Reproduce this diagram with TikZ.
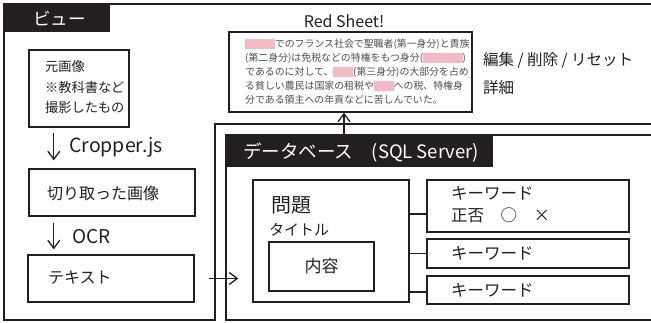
\documentclass[tikz,border=0pt]{standalone}
\usepackage{fontspec}
\setmainfont{Noto Sans CJK JP}
\usetikzlibrary{arrows.meta,calc}
\definecolor{ink}{HTML}{231F20}
\definecolor{sheetpink}{HTML}{F6B8C3}
\definecolor{bodygray}{HTML}{4D4D4D}
\newcommand\fs[2]{\fontsize{#1}{#2}\selectfont}
% pink strip that hides a word on the red sheet
\newcommand\hideword[1]{{\color{sheetpink}\rule[-0.13em]{#1em}{1.02em}}}

\begin{document}
\begin{tikzpicture}[x=1pt,y=-1pt,
  frameline/.style={draw=ink,line width=1.6pt},
  box/.style={draw=ink,line width=1.4pt,rectangle,inner sep=0pt},
  conn/.style={draw=ink,line width=1.3pt},
  arr/.style={draw=ink,line width=1.3pt,-{Straight Barb[length=8pt,width=12pt,line width=1.3pt]}},
  txt/.style={text=ink,inner sep=0pt,anchor=west},
  tab/.style={fill=ink,draw=none,rectangle,inner sep=0pt},
  tabtext/.style={text=white,inner sep=0pt,anchor=west}
]
\useasboundingbox (0,0) rectangle (651,322);

% outer frames: the view (L-shaped) and the database
\draw[frameline] (656,124) -- (215,124) -- (215,320) -- (4,320) -- (4,4) -- (656,4);
\draw[frameline] (656,135) -- (226,135) -- (226,320) -- (656,320);

% frame titles
\node[tab,minimum width=106,minimum height=28] (viewtab) at (57,18) {};
\node[tabtext,font=\fs{17.5}{20}] (viewlabel) at (33,18) {ビュー};
\node[tab,minimum width=267,minimum height=32] (dbtab) at (359.5,151) {};
\node[tabtext,font=\fs{18.5}{22}] (dblabel) at (243,152) {データベース　(SQL Server)};

% view column
\node[box,minimum width=100,minimum height=77] (orig) at (79,88.5) {};
\node[txt,align=left,font=\fs{13.2}{20}] (origtext) at (45,87) {元画像\\※教科書など\\撮影したもの};
\node[box,minimum width=166,minimum height=47] (crop) at (112,192.5) {};
\node[txt,font=\fs{16}{18}] (croptext) at (47,193) {切り取った画像};
\node[box,minimum width=166,minimum height=47] (textbox) at (111,278.5) {};
\node[txt,font=\fs{16}{18}] (textlabel) at (48,278) {テキスト};

\draw[arr] ($(orig.south west)+(25.5,5)$) -- ($(crop.north west)+(25.5,-8)$);
\node[txt,font=\fs{19.5}{22}] (cropper) at (69,147) {Cropper.js};
\draw[arr] ($(crop.south west)+(25.5,6)$) -- ($(textbox.north west)+(26.5,-5)$);
\node[txt,font=\fs{19}{22}] (ocr) at (72,237) {OCR};

% red sheet preview
\node[inner sep=0pt,text=ink,font=\fs{16}{18}] (rstitle) at (344,21) {Red Sheet!};
\node[box,minimum width=243,minimum height=80] (redsheet) at (350.5,72) {};
\node[txt,align=left,text=bodygray,font=\fs{9.9}{14}] (rsbody) at (245,72)
  {\hideword{3}でのフランス社会で聖職者(第一身分)と貴族\\
   (第二身分)は免税などの特権をもつ身分(\hideword{4})\\
   であるのに対して、\hideword{2}(第三身分)の大部分を占め\\
   る貧しい農民は国家の租税や\hideword{2}への税、特権身\\
   分である領主への年貢などに苦しんでいた。};
\node[txt,font=\fs{15.5}{18}] (edit) at (483,60) {編集 / 削除 / リセット};
\node[txt,font=\fs{15.5}{18}] (detail) at (483,88) {詳細};

% database content
\node[box,minimum width=156,minimum height=122] (mondai) at (331,241) {};
\node[txt,font=\fs{20}{22}] (mondaititle) at (271,205) {問題};
\node[txt,font=\fs{15}{18}] (title) at (269,230) {タイトル};
\node[box,minimum width=105,minimum height=49] (naiyo) at (321.5,266.5) {};
\node[inner sep=0pt,text=ink,font=\fs{17}{20}] (naiyotext) at (naiyo.center) {内容};

\node[box,minimum width=202,minimum height=52] (kw1) at (528,206) {};
\node[txt,font=\fs{16.5}{18}] (kw1a) at (451,193) {キーワード};
\node[txt,font=\fs{16.5}{18}] (kw1b) at (451,215) {正否　○　×};
\node[box,minimum width=202,minimum height=29] (kw2) at (528,253.5) {};
\node[txt,font=\fs{16.5}{18}] (kw2a) at (451,253) {キーワード};
\node[box,minimum width=202,minimum height=28] (kw3) at (528,290) {};
\node[txt,font=\fs{16.5}{18}] (kw3a) at (451,290) {キーワード};

\path ([yshift=-8pt]kw1.west) coordinate (k1);
\draw[conn] (mondai.east |- k1) -- (k1);
\draw[conn] (mondai.east |- kw2.west) -- (kw2.west);
\draw[conn] ([yshift=-2pt]mondai.east |- kw3.west) -- ([yshift=-2pt]kw3.west);

% data flow arrows
\coordinate (dbtop) at (344,135);
\draw[arr] (dbtop) -- (redsheet.south -| dbtop);
\draw[arr] ([xshift=14pt]textbox.east) -- ([xshift=-14pt]mondai.west |- textbox.east);
\end{tikzpicture}
\end{document}
